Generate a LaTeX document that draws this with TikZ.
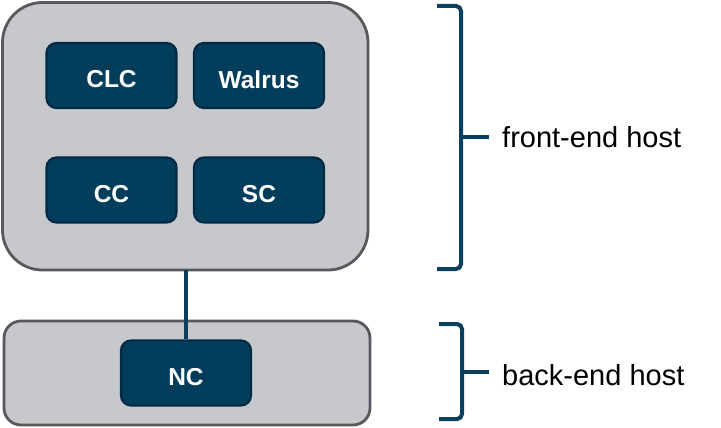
\documentclass[tikz,border=0pt]{standalone}
\usepackage{fontspec}
\setmainfont{Liberation Sans}
\definecolor{hostfill}{HTML}{C6C8CC}
\definecolor{hostdraw}{HTML}{57595E}
\definecolor{compfill}{HTML}{023D5C}
\definecolor{compdraw}{HTML}{012B44}
\definecolor{bracecol}{HTML}{0A3F5E}
\begin{document}
\begin{tikzpicture}[x=1pt,y=-1pt,
  host/.style={draw=hostdraw,fill=hostfill,line width=2.8pt},
  comp/.style={draw=compdraw,fill=compfill,line width=2.2pt,rounded corners=10pt,
    minimum width=130pt,minimum height=65pt,inner sep=0pt},
  ctext/.style={text=white,inner sep=0pt,font=\fontsize{24.5}{28}\selectfont\bfseries},
  brace/.style={draw=bracecol,line width=4pt,rounded corners=5pt},
  lbl/.style={anchor=west,inner sep=0pt,font=\fontsize{29}{34}\selectfont},
  link/.style={draw=bracecol,line width=4pt}]
\useasboundingbox (0,0) rectangle (721,428);
\draw[host,rounded corners=40pt] (2.5,2.5) rectangle (368,270) ;
\coordinate (fbot) at (186,270);
\draw[host,rounded corners=17pt] (4,321) rectangle (370,425);
\node[comp] (clc) at (111.5,75.5) {};
\node[comp] (walrus) at (259,75.5) {};
\node[comp] (cc) at (111.5,190) {};
\node[comp] (sc) at (259,190) {};
\node[ctext] (clct) at ([yshift=-4pt]clc.center) {CLC};
\node[ctext] (walrust) at ([yshift=-4pt]walrus.center) {Walrus};
\node[ctext] (cct) at ([yshift=-4pt]cc.center) {CC};
\node[ctext] (sct) at ([yshift=-4pt]sc.center) {SC};
\node[comp] (nc) at (186,373) {};
\node[ctext] (nct) at ([yshift=-4pt]nc.center) {NC};
\draw[link] (fbot) -- (nc.north);
% braces
\coordinate (ft) at (437,6);
\coordinate (fb) at (437,269);
\coordinate (bt) at (439,324);
\coordinate (bb) at (439,419);
\draw[brace] (ft) -- (461,6) -- (461,137);
\draw[brace] (fb) -- (461,269) -- (461,137);
\draw[draw=bracecol,line width=4pt] (459,137) -- (489,137);
\draw[brace] (bt) -- (462,324) -- (462,372);
\draw[brace] (bb) -- (462,419) -- (462,372);
\draw[draw=bracecol,line width=4pt] (460,372) -- (489,372);
\node[lbl] (fe) at (502,137) {front-end host};
\node[lbl] (be) at (502,375) {back-end host};
\end{tikzpicture}
\end{document}
